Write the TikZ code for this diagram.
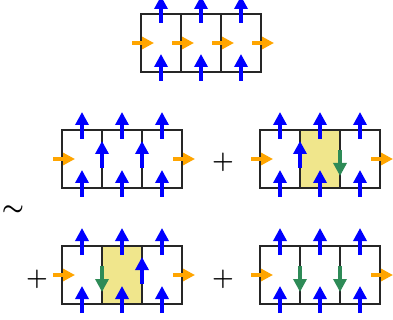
\documentclass[tikz,border=0pt]{standalone}
\usetikzlibrary{arrows.meta}
\definecolor{arrblue}{RGB}{0,0,255}
\definecolor{arrorange}{RGB}{255,165,0}
\definecolor{arrgreen}{RGB}{46,139,87}
\definecolor{cellyellow}{RGB}{240,230,140}
\tikzset{
  boxline/.style={line width=1.5pt, draw=black!85},
  cellfill/.style={fill=cellyellow, draw=none},
  uparr/.style={draw=arrblue, line width=4pt, -{Triangle[length=13pt,width=13pt]}},
  dnarr/.style={draw=arrgreen, line width=4pt, -{Triangle[length=13pt,width=13pt]}},
  rarr/.style={draw=arrorange, line width=4pt, -{Triangle[length=12pt,width=12pt]}},
  sym/.style={font=\fontsize{24}{28}\selectfont\boldmath, inner sep=0pt, anchor=base}
}
\newcommand\UA[2]{\draw[uparr] (#1,#2+9) -- (#1,#2-18);}
\newcommand\DA[2]{\draw[dnarr] (#1,#2-9) -- (#1,#2+17);}
\newcommand\RA[2]{\draw[rarr] (#1-9,#2) -- (#1+13,#2);}
\newcommand\frameL[2]{%
  \draw[boxline] (#1,#2) rectangle ++(120,58);
  \draw[boxline] (#1+40,#2) -- ++(0,58);
  \draw[boxline] (#1+80,#2) -- ++(0,58);
  \foreach \i in {20,60,100} {\UA{#1+\i}{#2}\UA{#1+\i}{#2+58}}%
}
\begin{document}
\begin{tikzpicture}[x=1pt,y=-1pt]
\useasboundingbox (0,0) rectangle (393,320);
% top row
\frameL{141}{14}
\foreach \x in {141,181,221,261} {\RA{\x}{43}}
% middle left
\frameL{62}{130}
\UA{102}{159}\UA{142}{159}
\RA{62}{159}\RA{182}{159}
% middle right
\fill[cellfill] (300,130) rectangle ++(40,58);
\frameL{260}{130}
\UA{300}{159}\DA{340}{159}
\RA{260}{159}\RA{380}{159}
% bottom left
\fill[cellfill] (102,246) rectangle ++(40,58);
\frameL{62}{246}
\DA{102}{275}\UA{142}{275}
\RA{62}{275}\RA{182}{275}
% bottom right
\frameL{260}{246}
\DA{300}{275}\DA{340}{275}
\RA{260}{275}\RA{380}{275}
% symbols
\node[sym] (plusA) at (223,168.5) {$\mathbf{+}$};
\node[sym] (plusB) at (37,285.5) {$\mathbf{+}$};
\node[sym] (plusC) at (223,285.5) {$\mathbf{+}$};
\node[sym] (sim) at (13,215) {$\sim$};
\end{tikzpicture}
\end{document}
